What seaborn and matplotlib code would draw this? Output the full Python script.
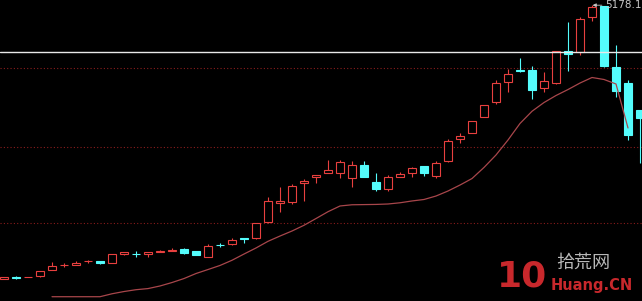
import numpy as np
import pandas as pd
import matplotlib
matplotlib.use("Agg")
import matplotlib.pyplot as plt
import seaborn as sns

# ---- data (weekly candles) ----
opens = [2011, 2031, 2025, 2039, 2115, 2165, 2173, 2210, 2216, 2196,
         2302, 2302, 2296, 2325, 2334, 2351, 2328, 2265, 2404, 2412,
         2478, 2485, 2663, 2889, 2901, 3113, 3189, 3235, 3235, 3171,
         3324, 3125, 3044, 3189, 3235, 3313, 3201, 3374, 3621, 3697,
         3882, 4055, 4286, 4418, 4422, 4217, 4268, 4645, 4626, 5037,
         5164, 4460, 4275, 3960]
highs = [2027, 2039, 2034, 2100, 2200, 2189, 2212, 2227, 2216, 2296,
         2325, 2331, 2323, 2343, 2362, 2369, 2334, 2408, 2420, 2478,
         2478, 2658, 2958, 3067, 3101, 3166, 3209, 3382, 3382, 3374,
         3371, 3229, 3209, 3240, 3305, 3313, 3371, 3621, 3697, 3836,
         4017, 4306, 4433, 4564, 4468, 4402, 4645, 4980, 5037, 5178.1,
         5164, 4710, 4306, 3960]
lows = [2011, 2011, 2025, 2027, 2115, 2150, 2173, 2192, 2181, 2192,
        2285, 2262, 2258, 2320, 2334, 2293, 2281, 2262, 2374, 2400,
        2420, 2473, 2651, 2785, 2874, 2909, 3113, 3235, 3171, 3074,
        3189, 3028, 3028, 3189, 3182, 3197, 3171, 3359, 3582, 3690,
        3875, 4025, 4167, 4395, 4087, 4171, 4263, 4414, 4595, 4991,
        4456, 4113, 3613, 3344]
closes = [2027, 2023, 2034, 2100, 2154, 2174, 2196, 2219, 2196, 2296,
          2314, 2294, 2323, 2334, 2345, 2304, 2281, 2389, 2395, 2455,
          2464, 2651, 2909, 2909, 3082, 3143, 3209, 3267, 3356, 3324,
          3189, 3047, 3182, 3220, 3286, 3229, 3344, 3605, 3663, 3836,
          4017, 4268, 4375, 4408, 4191, 4295, 4645, 4606, 5011, 5153,
          4468, 4183, 3671, 3864]
ma_line = [np.nan, np.nan, np.nan, np.nan, 1803, 1803, 1803, 1803, 1803, 1837,
           1863, 1884, 1897, 1927, 1967, 2013, 2071, 2117, 2164, 2224,
           2296, 2366, 2443, 2504, 2562, 2628, 2706, 2785, 2851, 2865,
           2867, 2869, 2874, 2888, 2909, 2926, 2966, 3024, 3093, 3168,
           3296, 3440, 3613, 3804, 3945, 4046, 4127, 4196, 4271, 4335,
           4312, 4260, 3752, np.nan]
grid_levels = [4439, 3536, 2660]
white_level = 4635
peak_label = "5178.1"

df = pd.DataFrame({"i": np.arange(len(opens)), "open": opens, "high": highs,
                   "low": lows, "close": closes, "ma": ma_line})

# ---- styling ----
sns.set_theme(style="dark", rc={"axes.facecolor": "black", "figure.facecolor": "black"})
plt.rcParams["font.family"] = ["DejaVu Sans", "Noto Sans CJK SC"]

RED = "#e8403f"
CYAN = "#54fcfc"
MA_COL = "#a8464b"

fig = plt.figure(figsize=(6.42, 3.01), dpi=100)
ax = fig.add_axes([0, 0, 1, 1])
ax.set_facecolor("black")

# grid lines
for g in grid_levels:
    ax.axhline(g, color="#8a1c1c", lw=0.8, linestyle=(0, (1, 2)), zorder=1)

up = df[df.close >= df.open]
dn = df[df.close < df.open]
w = 0.68
lw = 0.8

# wicks (outside the body)
body_top = df[["open", "close"]].max(axis=1)
body_bot = df[["open", "close"]].min(axis=1)
for sub, col in ((up, RED), (dn, CYAN)):
    ax.vlines(sub.i, body_top[sub.index], sub.high, color=col, lw=lw, zorder=2)
    ax.vlines(sub.i, sub.low, body_bot[sub.index], color=col, lw=lw, zorder=2)

# bodies
ax.bar(up.i, (up.close - up.open).clip(lower=1), bottom=up.open, width=w,
       facecolor="black", edgecolor=RED, linewidth=lw, zorder=3)
ax.bar(dn.i, dn.open - dn.close, bottom=dn.close, width=w,
       facecolor=CYAN, edgecolor=CYAN, linewidth=lw, zorder=3)

# moving-average line
sns.lineplot(data=df.dropna(subset=["ma"]), x="i", y="ma", ax=ax, color=MA_COL,
             lw=0.9, estimator=None, zorder=4)

# white horizontal line
ax.axhline(white_level, color="#e8e8e8", lw=1.0, zorder=5)

# peak label
peak_i = int(np.argmax(highs))
ax.annotate(peak_label, xy=(peak_i + 0.05, max(highs) - 8),
            xytext=(peak_i + 1.1, max(highs) - 8), color="#c8c8c8",
            fontsize=7.5, va="center", ha="left",
            arrowprops=dict(arrowstyle="-|>", color="#c8c8c8", lw=0.6,
                            mutation_scale=5, shrinkA=0, shrinkB=0), zorder=6)

# watermark
ax.text(0.774, 0.025, "10", transform=ax.transAxes, color="#c8282c",
        fontsize=26, fontweight="bold", ha="left", va="bottom", zorder=7)
ax.text(0.866, 0.098, "拾荒网", transform=ax.transAxes, color="#b8b8b8",
        fontsize=13, ha="left", va="bottom", zorder=7,
        family=["Noto Sans CJK SC", "DejaVu Sans"])
ax.text(0.857, 0.028, "Huang.CN", transform=ax.transAxes, color="#c8282c",
        fontsize=10.5, fontweight="bold", ha="left", va="bottom", zorder=7)

ax.set_xlim(-1/3, 53 + 1/6)
ax.set_ylim(1753.55, 5230.1)
ax.set_xlabel("")
ax.set_ylabel("")
ax.set_xticks([])
ax.set_yticks([])
for s in ax.spines.values():
    s.set_visible(False)
if ax.get_legend():
    ax.get_legend().remove()

fig.savefig("out.png", dpi=100, facecolor="black")
